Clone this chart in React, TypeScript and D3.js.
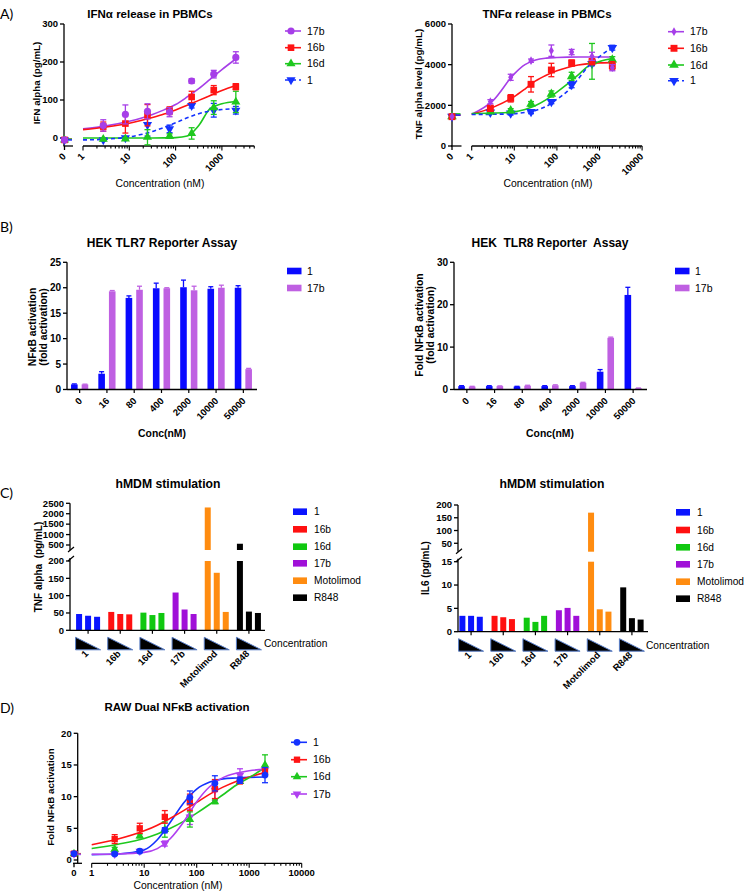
import React from "react";
import * as d3 from "d3";

const FONT = "'Liberation Sans', Arial, Helvetica, sans-serif";

// ---------------- shared dose-response x (nM) ----------------
const doseConc = [2.74, 8.23, 24.7, 74.1, 222, 667, 2000];
const fitLog = [0, 0.5, 1, 1.25, 1.5, 1.75, 2, 2.25, 2.5, 2.75, 3, 3.3];

// ---------------- Panel A left: IFN alpha ----------------
const ifnNames = ["17b", "16b", "16d", "1"];
const ifn17b = [33, 62, 70, 68, 150, 168, 212];
const ifn17bErr = [15, 25, 20, 12, 6, 10, 15];
const ifn16b = [30, 38, 60, 72, 108, 126, 135];
const ifn16bErr = [12, 25, 28, 10, 15, 12, 8];
const ifn16d = [-3, -2, 2, 5, 12, 80, 95];
const ifn16dErr = [3, 3, 20, 6, 15, 18, 28];
const ifn1 = [-5, 0, 35, 24, 85, 73, 73];
const ifn1Err = [3, 3, 30, 10, 6, 18, 10];
const ifnZero = [-5, -5, -5, -5];
const ifnZeroFit = [-4, -3, -3, -5];
const ifnFit17b = [24, 32, 44, 52, 62, 74, 88, 108, 130, 155, 180, 208];
const ifnFit16b = [22, 29, 39, 46, 54, 63, 74, 86, 99, 112, 125, 138];
const ifnFit16d = [0, 0, 0, 0, 0, 0.3, 1, 5, 33, 78, 90, 96];
const ifnFit1 = [-5, -3, 3, 9, 17, 28, 40, 53, 64, 71, 75, 77];
const ifnYTicks = [0, 100, 200, 300];
const ifnXLabels = ["1", "10", "100", "1000"];

// ---------------- Panel A right: TNF alpha ----------------
const tnfNames = ["17b", "16b", "16d", "1"];
const tnf17b = [2178, 3378, 4196, 4688, 4620, 4410, 3850];
const tnf17bErr = [100, 150, 80, 280, 130, 200, 150];
const tnf16b = [1853, 2345, 3034, 3738, 4081, 4147, 3950];
const tnf16bErr = [150, 180, 380, 330, 150, 150, 200];
const tnf16d = [1689, 1738, 2066, 2557, 3425, 4163, 4245];
const tnf16dErr = [80, 100, 120, 150, 200, 880, 150];
const tnf1 = [1656, 1607, 1689, 2180, 3016, 4048, 4835];
const tnf1Err = [60, 80, 100, 100, 150, 100, 120];
const tnfZero = [1450, 1443, 1450, 1450];
const tnfZeroFit = [1520, 1520, 1580, 1520];
const tnfFit17b = [1560, 2230, 3550, 4000, 4230, 4320, 4350, 4370, 4380, 4380, 4380, 4380];
const tnfFit16b = [1560, 1900, 2430, 2800, 3200, 3480, 3700, 3860, 3980, 4050, 4090, 4100];
const tnfFit16d = [1600, 1620, 1680, 1800, 1990, 2280, 2650, 3050, 3500, 3950, 4150, 4300];
const tnfFit1 = [1550, 1560, 1590, 1650, 1750, 1950, 2300, 2700, 3300, 3950, 4400, 4850];
const tnfYTicks = [0, 2000, 4000, 6000];
const tnfXLabels = ["1", "10", "100", "1000", "10000"];

// ---------------- Panel B: HEK reporter ----------------
const hekConc = ["0", "16", "80", "400", "2000", "10000", "50000"];
const hekNames = ["1", "17b"];
const tlr7Blue = [1.0, 3.1, 18.0, 19.9, 20.1, 19.8, 20.0];
const tlr7BlueErr = [0.1, 0.4, 0.4, 1.0, 1.4, 0.4, 0.4];
const tlr7Purple = [1.0, 19.3, 19.6, 19.9, 19.5, 20.0, 4.0];
const tlr7PurpleErr = [0.05, 0.15, 0.7, 0.1, 0.8, 0.5, 0.15];
const tlr7YTicks = [0, 5, 10, 15, 20, 25];
const tlr8Blue = [0.8, 0.8, 0.7, 0.8, 0.8, 4.2, 22.3];
const tlr8BlueErr = [0.1, 0.1, 0.05, 0.1, 0.1, 0.5, 1.8];
const tlr8Purple = [0.7, 0.8, 0.9, 1.0, 1.6, 12.2, 0.3];
const tlr8PurpleErr = [0.05, 0.05, 0.1, 0.1, 0.1, 0.15, 0.05];
const tlr8YTicks = [0, 10, 20, 30];

// ---------------- Panel C: hMDM ----------------
const hmdmGroups = ["1", "16b", "16d", "17b", "Motolimod", "R848"];
const hmdmTnf1 = [47, 42, 39];
const hmdmTnf16b = [53, 47, 46];
const hmdmTnf16d = [51, 44, 50];
const hmdmTnf17b = [109, 60, 47];
const hmdmTnfMoto = [2300, 166, 53];
const hmdmTnfR848 = [560, 54, 50];
const hmdmTnfLowTicks = [0, 50, 100, 150, 200];
const hmdmTnfHighTicks = [500, 1000, 1500, 2000, 2500];
const hmdmIl61 = [3.4, 3.4, 3.2];
const hmdmIl616b = [3.4, 3.1, 2.7];
const hmdmIl616d = [3.0, 2.1, 3.4];
const hmdmIl617b = [4.6, 5.1, 3.4];
const hmdmIl6Moto = [170, 4.8, 4.3];
const hmdmIl6R848 = [9.5, 2.9, 2.6];
const hmdmIl6LowTicks = [0, 5, 10, 15];
const hmdmIl6HighTicks = [50, 100, 150, 200];

// ---------------- Panel D: RAW dual ----------------
const rawNames = ["1", "16b", "16d", "17b"];
const raw1 = [0.95, 1.4, 4.7, 9.9, 12.1, 12.6, 13.4];
const raw1Err = [0.2, 0.2, 0.4, 1.0, 1.2, 0.5, 1.2];
const raw16b = [3.3, 5.0, 6.8, 9.1, 11.2, 12.5, 13.9];
const raw16bErr = [0.7, 0.8, 1.0, 1.3, 1.5, 0.5, 0.6];
const raw16d = [1.7, 3.8, 4.8, 6.4, 9.2, 12.4, 15.0];
const raw16dErr = [0.3, 0.3, 1.2, 1.2, 0.3, 0.3, 1.6];
const raw17b = [0.95, 1.4, 2.6, 6.8, 11.0, 13.4, 14.2];
const raw17bErr = [0.1, 0.2, 0.4, 1.2, 1.6, 1.0, 0.6];
const rawZero = [1.0, 1.0, 1.0, 1.0];
const rawZeroFit = [0.9, 1.0, 0.9, 0.9];
const rawFit1 = [0.85, 0.95, 1.6, 3.2, 6.0, 9.0, 11.2, 12.3, 12.8, 12.95, 13.05, 13.1];
const rawFit16b = [2.4, 3.3, 4.6, 5.5, 6.6, 7.8, 9.1, 10.4, 11.5, 12.4, 13.1, 13.8];
const rawFit16d = [1.8, 2.5, 3.4, 4.1, 5.0, 6.1, 7.4, 8.8, 10.3, 11.8, 13.0, 14.6];
const rawFit17b = [0.9, 0.95, 1.2, 1.8, 3.4, 6.0, 9.2, 11.6, 13.0, 13.7, 14.1, 14.3];
const rawYTicks = [0, 5, 10, 15, 20];
const rawXLabels = ["1", "10", "100", "1000", "10000"];

// ---------------- colours ----------------
const PURPLE = "#a63ee8";
const RED = "#ff1414";
const GREEN = "#1ec81e";
const BLUE = "#1432ff";
const B_BLUE = "#0a0aff";
const B_PURPLE = "#bf60e2";
const C_COLORS = ["#0a14ff", "#ff1010", "#10c810", "#a010d8", "#ff8c10", "#000000"];

type DoseSeries = {
  name: string; color: string; shape: string; dashed?: boolean;
  y: number[]; err: number[]; zero: number; zeroFit: number; fit: number[]; size: number;
};

function symPath(shape: string, size: number) {
  const t = shape === "circle" ? d3.symbolCircle
    : shape === "square" ? d3.symbolSquare
    : shape === "diamond" ? d3.symbolDiamond
    : d3.symbolTriangle;
  return d3.symbol().type(t).size(size)() as string;
}

function Marker({ x, y, shape, color, size }: any) {
  const rot = shape === "down" ? 180 : 0;
  return <path d={symPath(shape, size)} transform={`translate(${x},${y}) rotate(${rot})`} fill={color} />;
}

function Title({ x, y, text, size = 11.5 }: any) {
  return <text x={x} y={y} textAnchor="middle" fontSize={size} fontWeight="bold" style={{ whiteSpace: "pre" }}>{text}</text>;
}

function YLabel({ x, y, text, size = 9.8, bold = true }: any) {
  return <text transform={`translate(${x},${y}) rotate(-90)`} dy="0.35em" textAnchor="middle" fontSize={size} fontWeight={bold ? "bold" : "normal"} style={{ whiteSpace: "pre" }}>{text}</text>;
}

function YAxis({ x, scale, ticks, y1, y2, fs = 9.5 }: any) {
  return (
    <g>
      <line x1={x} x2={x} y1={y1} y2={y2} stroke="#000" strokeWidth={1.3} />
      {ticks.map((t: number) => (
        <g key={t}>
          <line x1={x - 4} x2={x} y1={scale(t)} y2={scale(t)} stroke="#000" strokeWidth={1.3} />
          <text x={x - 6} y={scale(t)} dy="0.35em" textAnchor="end" fontSize={fs} fontWeight="bold">{t}</text>
        </g>
      ))}
    </g>
  );
}

function DoseChart({ cfg, series }: { cfg: any; series: DoseSeries[] }) {
  const xs = d3.scaleLog().domain([1, Math.pow(10, cfg.logMax)]).range([cfg.logLeft, cfg.logLeft + cfg.decade * cfg.logMax]);
  const ys = d3.scaleLinear().domain(cfg.yDomain).range(cfg.yRange);
  const line = d3.line<number>().x((_, i) => xs(Math.pow(10, fitLog[i]))).y((v) => ys(v)).curve(d3.curveMonotoneX);
  const ticks: { v: number; major: boolean }[] = [];
  for (let e = 0; e <= Math.ceil(cfg.logMax); e++) {
    for (let k = 1; k <= 9; k++) {
      const v = k * Math.pow(10, e);
      if (Math.log10(v) <= cfg.logMax + 1e-6) ticks.push({ v, major: k === 1 });
    }
  }
  const ay = cfg.axisY;
  const lab = (x: number, t: string, key: string) =>
    cfg.rotate ? (
      <text key={key} transform={`translate(${x + 2},${ay + 11}) rotate(-45)`} textAnchor="end" fontSize={9.5} fontWeight="bold">{t}</text>
    ) : (
      <text key={key} x={x} y={ay + 13} textAnchor="middle" fontSize={9.5} fontWeight="bold">{t}</text>
    );
  return (
    <g>
      <YAxis x={cfg.yAxisX} scale={ys} ticks={cfg.yTicks} y1={cfg.yRange[1]} y2={ay} />
      {/* zero segment */}
      <line x1={cfg.zeroX - 1} x2={cfg.zeroEnd} y1={ay} y2={ay} stroke="#000" strokeWidth={1.3} />
      <line x1={cfg.zeroX} x2={cfg.zeroX} y1={ay} y2={ay + 4} stroke="#000" strokeWidth={1.3} />
      {lab(cfg.zeroX, "0", "zero")}
      {/* log segment */}
      <line x1={xs.range()[0]} x2={xs.range()[1]} y1={ay} y2={ay} stroke="#000" strokeWidth={1.3} />
      {ticks.map((t, i) => (
        <line key={i} x1={xs(t.v)} x2={xs(t.v)} y1={ay} y2={ay + (t.major ? 4.5 : 2.5)} stroke="#000" strokeWidth={1.1} />
      ))}
      {cfg.xLabels.map((t: string) => lab(xs(+t), t, t))}
      <text x={cfg.xlabelX} y={cfg.xlabelY} textAnchor="middle" fontSize={10.4}>Concentration (nM)</text>
      <YLabel x={cfg.ylabelX} y={cfg.ylabelY} text={cfg.ylabel} />
      <Title x={cfg.titleX} y={cfg.titleY} text={cfg.title} />
      {/* fits */}
      {series.map((s) => (
        <g key={"f" + s.name}>
          <path d={line(s.fit) as string} fill="none" stroke={s.color} strokeWidth={1.6} strokeDasharray={s.dashed ? "4,3" : undefined} />
          <line x1={cfg.zeroX - 2} x2={cfg.zeroEnd - 1} y1={ys(s.zeroFit)} y2={ys(s.zeroFit)} stroke={s.color} strokeWidth={1.5} />
        </g>
      ))}
      {/* error bars + markers */}
      {series.slice().reverse().map((s) => (
        <g key={"p" + s.name}>
          {s.y.map((v, i) => {
            const x = xs(doseConc[i]);
            const e = s.err[i];
            return (
              <g key={i}>
                <line x1={x} x2={x} y1={ys(v - e)} y2={ys(v + e)} stroke={s.color} strokeWidth={1.3} />
                <line x1={x - 3} x2={x + 3} y1={ys(v + e)} y2={ys(v + e)} stroke={s.color} strokeWidth={1.3} />
                <line x1={x - 3} x2={x + 3} y1={ys(v - e)} y2={ys(v - e)} stroke={s.color} strokeWidth={1.3} />
                <Marker x={x} y={ys(v)} shape={s.shape} color={s.color} size={s.size} />
              </g>
            );
          })}
          <Marker x={cfg.zeroX} y={ys(s.zero)} shape={s.shape} color={s.color} size={s.size} />
        </g>
      ))}
      {/* legend */}
      {series.map((s, i) => (
        <g key={"l" + s.name}>
          <line x1={cfg.legendX} x2={cfg.legendX + 16} y1={cfg.legendY[i]} y2={cfg.legendY[i]} stroke={s.color} strokeWidth={1.6} strokeDasharray={s.dashed ? "4,3" : undefined} />
          <Marker x={cfg.legendX + 6} y={cfg.legendY[i]} shape={s.shape} color={s.color} size={s.size} />
          <text x={cfg.legendX + 22} y={cfg.legendY[i]} dy="0.35em" fontSize={10.5}>{s.name}</text>
        </g>
      ))}
    </g>
  );
}

function HekChart({ cfg, blue, blueErr, purple, purpleErr }: any) {
  const xb = d3.scaleBand().domain(hekConc).range(cfg.xRange);
  const ys = d3.scaleLinear().domain(cfg.yDomain).range(cfg.yRange);
  const ay = cfg.yRange[0];
  const bw = 6.6;
  const bars = [
    { vals: blue, err: blueErr, color: B_BLUE, off: -8.6 },
    { vals: purple, err: purpleErr, color: B_PURPLE, off: 2 },
  ];
  return (
    <g>
      <Title x={cfg.titleX} y={cfg.titleY} text={cfg.title} size={12} />
      {bars.map((b, j) => (
        <g key={j}>
          {b.vals.map((v: number, i: number) => {
            const c = (xb(hekConc[i]) as number) + xb.bandwidth() / 2;
            const x = c + b.off;
            const top = ys(v + b.err[i]);
            return (
              <g key={i}>
                <rect x={x} y={ys(v)} width={bw} height={ay - ys(v)} fill={b.color} />
                <line x1={x + bw / 2} x2={x + bw / 2} y1={ys(v)} y2={top} stroke={b.color} strokeWidth={1.3} />
                <line x1={x + bw / 2 - 2.5} x2={x + bw / 2 + 2.5} y1={top} y2={top} stroke={b.color} strokeWidth={1.3} />
              </g>
            );
          })}
        </g>
      ))}
      <YAxis x={cfg.yAxisX} scale={ys} ticks={cfg.yTicks} y1={cfg.yRange[1]} y2={ay} fs={10} />
      <line x1={cfg.yAxisX} x2={cfg.xRange[1]} y1={ay} y2={ay} stroke="#000" strokeWidth={1.3} />
      {hekConc.map((t) => {
        const c = (xb(t) as number) + xb.bandwidth() / 2;
        return (
          <g key={t}>
            <line x1={c} x2={c} y1={ay} y2={ay + 3.5} stroke="#000" strokeWidth={1.2} />
            <text transform={`translate(${c + 3},${ay + 12}) rotate(-45)`} textAnchor="end" fontSize={9.5} fontWeight="bold">{t}</text>
          </g>
        );
      })}
      <text x={cfg.xlabelX} y={cfg.xlabelY} textAnchor="middle" fontSize={10.4} fontWeight="bold">Conc(nM)</text>
      <YLabel x={cfg.ylabelX1} y={cfg.ylabelY} text={cfg.ylabel1} size={10.4} />
      <YLabel x={cfg.ylabelX2} y={cfg.ylabelY} text={cfg.ylabel2} size={10.4} />
      {hekNames.map((n, i) => (
        <g key={n}>
          <rect x={cfg.legendX} y={cfg.legendY[i] - 3.3} width={14.5} height={6.6} fill={i === 0 ? B_BLUE : B_PURPLE} />
          <text x={cfg.legendX + 20} y={cfg.legendY[i]} dy="0.35em" fontSize={10.5}>{n}</text>
        </g>
      ))}
    </g>
  );
}

function HmdmChart({ cfg, groups }: any) {
  const xb = d3.scaleBand().domain(hmdmGroups).range(cfg.xRange);
  const yLow = d3.scaleLinear().domain(cfg.lowDomain).range(cfg.lowRange);
  const yHigh = d3.scaleLinear().domain(cfg.highDomain).range(cfg.highRange);
  const ay = cfg.lowRange[0];
  const lowMax = cfg.lowDomain[1];
  const ax = cfg.yAxisX;
  return (
    <g>
      <Title x={cfg.titleX} y={cfg.titleY} text="hMDM stimulation" size={12.2} />
      {groups.map((vals: number[], g: number) => {
        const c = (xb(hmdmGroups[g]) as number) + xb.bandwidth() / 2;
        return (
          <g key={g}>
            {vals.map((v, i) => {
              const x = c + (i - 1) * cfg.step - 3;
              if (v <= lowMax) return <rect key={i} x={x} y={yLow(v)} width={6} height={ay - yLow(v)} fill={C_COLORS[g]} />;
              return (
                <g key={i}>
                  <rect x={x} y={yLow(lowMax)} width={6} height={ay - yLow(lowMax)} fill={C_COLORS[g]} />
                  <rect x={x} y={yHigh(v)} width={6} height={cfg.highRange[0] - yHigh(v)} fill={C_COLORS[g]} />
                </g>
              );
            })}
            <line x1={c} x2={c} y1={ay} y2={ay + 3.5} stroke="#000" strokeWidth={1.2} />
            <path d={`M${c - 12.5},${ay + 7}L${c - 12.5},${ay + 19.5}L${c + 12.5},${ay + 19.5}Z`} fill="#000" stroke="#5a7fc8" strokeWidth={1} />
            <text transform={`translate(${c + 1},${ay + 24}) rotate(-45)`} textAnchor="end" fontSize={9.5} fontWeight="bold">{hmdmGroups[g]}</text>
          </g>
        );
      })}
      {/* y axis: two segments */}
      <YAxis x={ax} scale={yLow} ticks={cfg.lowTicks} y1={cfg.lowRange[1] - 3} y2={ay} />
      <YAxis x={ax} scale={yHigh} ticks={cfg.highTicks} y1={cfg.highRange[1]} y2={cfg.highRange[0]} />
      <line x1={ax - 2} x2={ax + 4} y1={cfg.highRange[0] + 2} y2={cfg.highRange[0] - 3} stroke="#000" strokeWidth={1.2} />
      <line x1={ax - 2} x2={ax + 4} y1={cfg.lowRange[1]} y2={cfg.lowRange[1] - 5} stroke="#000" strokeWidth={1.2} />
      <line x1={ax} x2={cfg.xRange[1]} y1={ay} y2={ay} stroke="#000" strokeWidth={1.3} />
      <text x={cfg.concX} y={ay + 17} fontSize={10.2}>Concentration</text>
      <YLabel x={cfg.ylabelX} y={cfg.ylabelY} text={cfg.ylabel} size={10} />
      {hmdmGroups.map((n, i) => (
        <g key={n}>
          <rect x={cfg.legendX} y={cfg.legendY[i] - 3.3} width={14} height={6.6} fill={C_COLORS[i]} />
          <text x={cfg.legendX + 21} y={cfg.legendY[i]} dy="0.35em" fontSize={10.2}>{n}</text>
        </g>
      ))}
    </g>
  );
}

export default function App() {
  const ifnSeries: DoseSeries[] = [
    { name: ifnNames[0], color: PURPLE, shape: "circle", y: ifn17b, err: ifn17bErr, zero: ifnZero[0], zeroFit: ifnZeroFit[0], fit: ifnFit17b, size: 40 },
    { name: ifnNames[1], color: RED, shape: "square", y: ifn16b, err: ifn16bErr, zero: ifnZero[1], zeroFit: ifnZeroFit[1], fit: ifnFit16b, size: 44 },
    { name: ifnNames[2], color: GREEN, shape: "triangle", y: ifn16d, err: ifn16dErr, zero: ifnZero[2], zeroFit: ifnZeroFit[2], fit: ifnFit16d, size: 36 },
    { name: ifnNames[3], color: BLUE, shape: "down", dashed: true, y: ifn1, err: ifn1Err, zero: ifnZero[3], zeroFit: ifnZeroFit[3], fit: ifnFit1, size: 36 },
  ];
  const tnfSeries: DoseSeries[] = [
    { name: tnfNames[0], color: PURPLE, shape: "diamond", y: tnf17b, err: tnf17bErr, zero: tnfZero[0], zeroFit: tnfZeroFit[0], fit: tnfFit17b, size: 22 },
    { name: tnfNames[1], color: RED, shape: "square", y: tnf16b, err: tnf16bErr, zero: tnfZero[1], zeroFit: tnfZeroFit[1], fit: tnfFit16b, size: 48 },
    { name: tnfNames[2], color: GREEN, shape: "triangle", y: tnf16d, err: tnf16dErr, zero: tnfZero[2], zeroFit: tnfZeroFit[2], fit: tnfFit16d, size: 40 },
    { name: tnfNames[3], color: BLUE, shape: "down", dashed: true, y: tnf1, err: tnf1Err, zero: tnfZero[3], zeroFit: tnfZeroFit[3], fit: tnfFit1, size: 40 },
  ];
  const rawSeries: DoseSeries[] = [
    { name: rawNames[0], color: BLUE, shape: "circle", y: raw1, err: raw1Err, zero: rawZero[0], zeroFit: rawZeroFit[0], fit: rawFit1, size: 36 },
    { name: rawNames[1], color: RED, shape: "square", y: raw16b, err: raw16bErr, zero: rawZero[1], zeroFit: rawZeroFit[1], fit: rawFit16b, size: 40 },
    { name: rawNames[2], color: GREEN, shape: "triangle", y: raw16d, err: raw16dErr, zero: rawZero[2], zeroFit: rawZeroFit[2], fit: rawFit16d, size: 32 },
    { name: rawNames[3], color: "#b040f0", shape: "down", y: raw17b, err: raw17bErr, zero: rawZero[3], zeroFit: rawZeroFit[3], fit: rawFit17b, size: 32 },
  ];
  const ifnCfg = {
    yAxisX: 64, zeroX: 64.5, zeroEnd: 73, logLeft: 83, decade: 46.3, logMax: 3.7, axisY: 146,
    yDomain: [-20, 300], yRange: [145.6, 24], yTicks: ifnYTicks, xLabels: ifnXLabels, rotate: true,
    title: "IFNα release in PBMCs", titleX: 150, titleY: 17.5, ylabel: "IFN alpha (pg/mL)", ylabelX: 36.5, ylabelY: 83,
    xlabelX: 160, xlabelY: 187, legendX: 285, legendY: [31, 47.7, 63.7, 80],
  };
  const tnfCfg = {
    yAxisX: 452, zeroX: 452, zeroEnd: 461.5, logLeft: 471.7, decade: 42.6, logMax: 4, axisY: 146,
    yDomain: [0, 6000], yRange: [146, 24], yTicks: tnfYTicks, xLabels: tnfXLabels, rotate: true,
    title: "TNFα release in PBMCs", titleX: 547, titleY: 17.5, ylabel: "TNF alpha level (pg/mL)", ylabelX: 418.7, ylabelY: 84,
    xlabelX: 548, xlabelY: 187, legendX: 668, legendY: [31.7, 48.3, 65, 80.7],
  };
  const rawCfg = {
    yAxisX: 77.7, zeroX: 74, zeroEnd: 82, logLeft: 91.7, decade: 52.5, logMax: 4, axisY: 863.3,
    yDomain: [0, 20], yRange: [860, 733.3], yTicks: rawYTicks, xLabels: rawXLabels, rotate: false,
    title: "RAW Dual NFκB activation", titleX: 177, titleY: 711, ylabel: "Fold NFκB activation", ylabelX: 50.7, ylabelY: 797,
    xlabelX: 178, xlabelY: 889, legendX: 291, legendY: [742.3, 759.7, 776.7, 794],
  };
  const tlr7Cfg = {
    xRange: [66, 257], yAxisX: 67, yDomain: [0, 25], yRange: [389.5, 262.3], yTicks: tlr7YTicks,
    title: "HEK TLR7 Reporter Assay", titleX: 162, titleY: 246.5, xlabelX: 162, xlabelY: 437,
    ylabel1: "NFκB activation", ylabel2: "(fold activation)", ylabelX1: 32, ylabelX2: 43.5, ylabelY: 327,
    legendX: 287, legendY: [271, 288],
  };
  const tlr8Cfg = {
    xRange: [453, 647], yAxisX: 454, yDomain: [0, 30], yRange: [389.5, 262.3], yTicks: tlr8YTicks,
    title: "HEK  TLR8 Reporter  Assay", titleX: 550, titleY: 246.5, xlabelX: 550, xlabelY: 437,
    ylabel1: "Fold NFκB activation", ylabel2: "(fold activation)", ylabelX1: 419, ylabelX2: 430.5, ylabelY: 325,
    legendX: 675, legendY: [271, 288],
  };
  const cTnfCfg = {
    xRange: [72, 265], yAxisX: 70, step: 9,
    lowDomain: [0, 200], lowRange: [630.3, 561], highDomain: [260, 2500], highRange: [550, 503.3],
    lowTicks: hmdmTnfLowTicks, highTicks: hmdmTnfHighTicks,
    titleX: 168, titleY: 487.5, ylabel: "TNF alpha  (pg/mL)", ylabelX: 38.3, ylabelY: 567,
    concX: 264, legendX: 293, legendY: [511.7, 529.3, 546.7, 563.3, 580.7, 597.7],
  };
  const cIl6Cfg = {
    xRange: [455, 648], yAxisX: 458, step: 8.7,
    lowDomain: [0, 15], lowRange: [631.7, 561.7], highDomain: [17, 200], highRange: [551.7, 505],
    lowTicks: hmdmIl6LowTicks, highTicks: hmdmIl6HighTicks,
    titleX: 552, titleY: 487.5, ylabel: "IL6 (pg/mL)", ylabelX: 425.3, ylabelY: 568,
    concX: 646, legendX: 676, legendY: [512.3, 530, 547.3, 564.3, 581.7, 598.7],
  };
  const letter = (t: string, y: number) => (
    <text x={0} y={y} fontSize={14} fontFamily="Lato, 'Liberation Sans', sans-serif">{t}</text>
  );
  return (
    <svg width={744} height={893} viewBox="0 0 744 893" style={{ position: "absolute", left: 0, top: 0, background: "#fff" }} fontFamily={FONT}>
      <rect width={744} height={893} fill="#fff" />
      {letter("A)", 18.5)}
      {letter("B)", 232)}
      {letter("C)", 498)}
      {letter("D)", 713)}
      <DoseChart cfg={ifnCfg} series={ifnSeries} />
      <DoseChart cfg={tnfCfg} series={tnfSeries} />
      <HekChart cfg={tlr7Cfg} blue={tlr7Blue} blueErr={tlr7BlueErr} purple={tlr7Purple} purpleErr={tlr7PurpleErr} />
      <HekChart cfg={tlr8Cfg} blue={tlr8Blue} blueErr={tlr8BlueErr} purple={tlr8Purple} purpleErr={tlr8PurpleErr} />
      <HmdmChart cfg={cTnfCfg} groups={[hmdmTnf1, hmdmTnf16b, hmdmTnf16d, hmdmTnf17b, hmdmTnfMoto, hmdmTnfR848]} />
      <HmdmChart cfg={cIl6Cfg} groups={[hmdmIl61, hmdmIl616b, hmdmIl616d, hmdmIl617b, hmdmIl6Moto, hmdmIl6R848]} />
      <DoseChart cfg={rawCfg} series={rawSeries} />
    </svg>
  );
}
